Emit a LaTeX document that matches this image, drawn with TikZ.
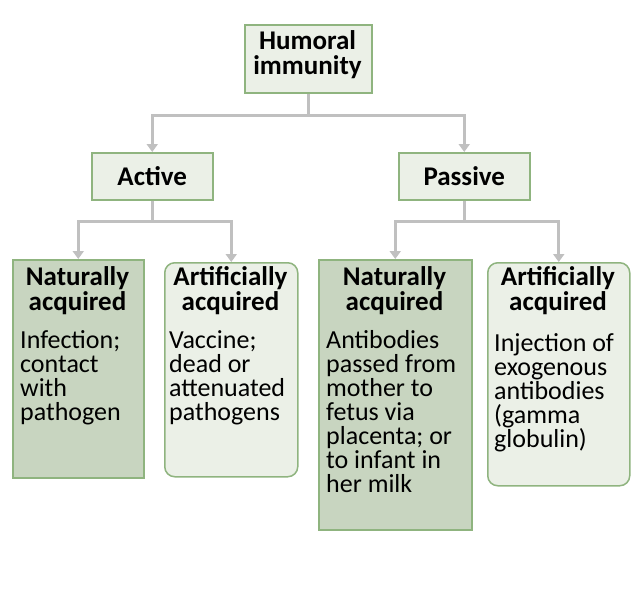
\documentclass[tikz,border=0pt]{standalone}
\usepackage{fontspec}
\setmainfont{Carlito}
\usetikzlibrary{arrows.meta}
\begin{document}
\begin{tikzpicture}[x=1pt,y=-1pt,
  box/.style={draw=bordc,fill=light,line width=1.5pt,anchor=north west,inner sep=0pt},
  darkbox/.style={box,fill=dark},
  rbox/.style={box,rounded corners=10pt},
  conn/.style={draw=linegray,line width=3pt,-{Triangle[length=8pt,width=11pt]}},
  ttl/.style={font=\bfseries\fontsize{27}{25}\selectfont,align=center,anchor=north,inner sep=0pt},
  bdy/.style={font=\fontsize{26}{24}\selectfont,align=left,anchor=north west,inner sep=0pt}]
\definecolor{light}{HTML}{EBF0E7}
\definecolor{dark}{HTML}{C8D5C0}
\definecolor{linegray}{HTML}{C0C0C0}
\definecolor{bordc}{HTML}{8FB47F}
\useasboundingbox (0,0) rectangle (635,592);
\node[box,minimum width=127pt,minimum height=68pt] (hum) at (244,24) {};
\node[ttl] (humt) at (307.5,30) {Humoral\\immunity};
\node[box,minimum width=121pt,minimum height=47pt] (act) at (91,152) {};
\node[ttl,anchor=center] (actt) at (act.center) {Active};
\node[box,minimum width=131pt,minimum height=47pt] (pas) at (398,152) {};
\node[ttl,anchor=center] (past) at (pas.center) {Passive};
\node[darkbox,minimum width=131pt,minimum height=218pt] (na1) at (12,259) {};
\node[rbox,minimum width=133pt,minimum height=214pt] (aa1) at (164,262) {};
\node[darkbox,minimum width=153pt,minimum height=270pt] (na2) at (318,259) {};
\node[rbox,minimum width=142pt,minimum height=223pt] (aa2) at (487,262) {};
\node[ttl] (na1t) at (77.5,266) {Naturally\\acquired};
\node[bdy] (na1b) at (20,330) {Infection;\\contact\\with\\pathogen};
\node[ttl] (aa1t) at (230.5,266) {Artificially\\acquired};
\node[bdy] (aa1b) at (169,330) {Vaccine;\\dead or\\attenuated\\pathogens};
\node[ttl] (na2t) at (394.5,266) {Naturally\\acquired};
\node[bdy] (na2b) at (326,330) {Antibodies\\passed from\\mother to\\fetus via\\placenta; or\\to infant in\\her milk};
\node[ttl] (aa2t) at (558,266) {Artificially\\acquired};
\node[bdy] (aa2b) at (494,333) {Injection of\\exogenous\\antibodies\\(gamma\\globulin)};
\draw[conn] (hum.south) -- ++(0,22) coordinate (h1) -| (act.north);
\draw[conn] (h1) -| (pas.north);
\draw[conn] (act.south) -- ++(0,21) coordinate (a1) -| (na1.north);
\draw[conn] (a1) -| (aa1.north);
\draw[conn] (pas.south) -- ++(0,21) coordinate (p1) -| (na2.north);
\draw[conn] (p1) -| (aa2.north);
\end{tikzpicture}
\end{document}
